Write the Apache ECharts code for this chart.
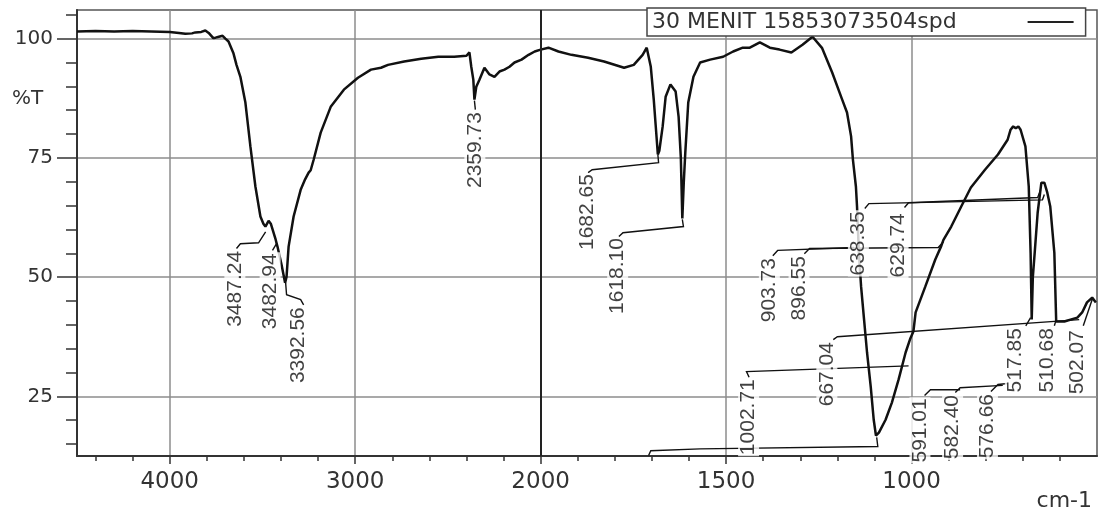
<!DOCTYPE html>
<html>
<head>
<meta charset="utf-8">
<title>FTIR 30 MENIT</title>
<script src="https://cdn.jsdelivr.net/npm/echarts@6/dist/echarts.min.js"></script>
<style>
  html, body { margin: 0; padding: 0; background: #fff; }
  #chart { width: 1099px; height: 513px; }
</style>
</head>
<body>
<div id="chart"></div>
<script>
// spectrum (cm-1 / %T)
const wavenumber = [
  4500, 4400, 4300, 4200, 4100, 4000, 3950, 3916, 3880, 3862,
  3830, 3808, 3790, 3781, 3765, 3753, 3735, 3715, 3700, 3683,
  3657, 3640, 3619, 3592, 3565, 3538, 3511, 3495, 3484, 3467,
  3455, 3446, 3429, 3419, 3397, 3378, 3370, 3359, 3332, 3294,
  3270, 3251, 3240, 3224, 3186, 3132, 3061, 2985, 2915, 2861,
  2823, 2736, 2644, 2552, 2466, 2400, 2384, 2374, 2363, 2357,
  2347, 2330, 2303, 2276, 2249, 2222, 2195, 2168, 2141, 2103,
  2065, 2032, 2000, 1979, 1952, 1917, 1872, 1829, 1775, 1749,
  1725, 1714, 1703, 1695, 1690, 1684, 1680, 1671, 1663, 1650,
  1636, 1628, 1622, 1618, 1614, 1610, 1602, 1588, 1570, 1543,
  1508, 1481, 1455, 1436, 1409, 1382, 1356, 1324, 1294, 1267,
  1241, 1214, 1187, 1174, 1163, 1158, 1150, 1147, 1142, 1136,
  1128, 1120, 1110, 1102, 1096, 1088, 1070, 1053, 1035, 1016,
  1003, 995, 989, 963, 936, 920, 914, 909, 893, 866,
  840, 802, 767, 741, 733, 726, 719, 712, 706, 693,
  684, 679, 676, 673, 668, 660, 650, 642, 634, 626,
  615, 610, 588, 553, 540, 527, 513, 503
];
const transmittance = [
  101.5, 101.6, 101.5, 101.6, 101.5, 101.4, 101.2, 101.0, 101.1, 101.3,
  101.4, 101.7, 101.2, 100.8, 100.1, 100.2, 100.4, 100.6, 100.0, 99.4,
  97.0, 94.5, 92.0, 86.6, 77.4, 69.0, 62.7, 61.2, 60.6, 61.8,
  61.2, 61.0, 57.9, 56.4, 52.6, 48.8, 50.1, 56.4, 62.7, 68.3,
  70.5, 71.9, 72.4, 74.6, 80.3, 85.7, 89.3, 91.8, 93.5, 93.9,
  94.5, 95.2, 95.8, 96.2, 96.2, 96.4, 97.1, 94.1, 91.4, 87.2,
  89.9, 91.4, 93.9, 92.5, 92.0, 93.1, 93.5, 94.1, 95.0, 95.6,
  96.6, 97.3, 97.7, 98.1, 97.3, 96.6, 96.0, 95.2, 93.9, 94.5,
  96.6, 98.1, 94.1, 87.2, 82.0, 75.7, 76.5, 81.6, 87.8, 90.4,
  88.9, 83.6, 75.0, 62.3, 70.0, 76.1, 86.6, 92.0, 95.0, 95.6,
  96.2, 97.3, 98.1, 98.1, 99.2, 98.1, 97.7, 97.1, 98.7, 100.4,
  98.0, 92.9, 87.2, 84.5, 79.5, 74.6, 69.0, 64.8, 55.1, 48.0,
  41.1, 34.2, 27.0, 20.1, 16.8, 17.4, 20.1, 23.7, 28.5, 34.2,
  37.2, 38.6, 42.6, 48.0, 53.7, 56.5, 57.8, 57.9, 60.6, 64.8,
  68.8, 72.5, 75.7, 78.8, 80.9, 81.6, 81.2, 81.6, 80.9, 77.4,
  69.0, 55.1, 41.1, 50.0, 55.1, 63.5, 69.8, 69.8, 67.7, 64.8,
  55.1, 40.7, 40.7, 41.5, 42.6, 44.7, 45.7, 44.7
];

const seriesName = '30 MENIT 15853073504spd';
const xTickLabels = [4000, 3000, 2000, 1500, 1000];
const yTickLabels = [25, 50, 75, 100];

// peak tags: text, where the top end of the tag sits, and its leader line
const peakNames = ['3487.24', '3482.94', '3392.56', '2359.73', '1682.65', '1618.10',
  '1002.71', '903.73', '896.55', '667.04', '638.35', '629.74',
  '591.01', '582.40', '576.66', '517.85', '510.68', '502.07'];
const peakTagWn = [3646, 3456, 3305, 2352, 1872, 1791, 1438, 1382, 1302, 1227, 1142, 1035, 976, 888, 794, 719, 634, 553];
const peakTagT = [55.6, 55.1, 43.8, 84.7, 71.7, 58.3, 28.7, 54.1, 54.5, 36.5, 63.9, 63.5, 24.7, 25.4, 25.6, 39.4, 39.4, 39.0];
const leaderPaths = [
  [[3483, 59.5], [3521, 57.2], [3619, 57.0], [3640, 56.0]],
  [[3424, 57.0], [3446, 55.6]],
  [[3375, 48.8], [3370, 46.3], [3294, 45.3], [3278, 44.2]],
  [[2357, 87.0], [2352, 85.1]],
  [[1684, 75.7], [1682, 74.0], [1861, 72.5], [1872, 71.9]],
  [[1618, 62.1], [1615, 60.6], [1778, 59.3], [1789, 58.5]],
  [[1008, 31.4], [1445, 30.2], [1438, 29.0]],
  [[1155, 56.2], [1361, 55.6], [1374, 54.5]],
  [[914, 57.4], [928, 56.2], [1275, 56.0], [1289, 54.9]],
  [[548, 41.1], [1200, 37.5], [1211, 36.9]],
  [[642, 67.3], [647, 66.2], [1115, 65.4], [1126, 64.4]],
  [[652, 68.3], [660, 66.7], [1008, 65.6], [1019, 64.6]],
  [[869, 26.4], [949, 26.4], [965, 25.2]],
  [[754, 27.3], [869, 26.8], [882, 25.8]],
  [[741, 27.7], [767, 27.5], [786, 26.0]],
  [[679, 41.5], [692, 39.8]],
  [[610, 41.1], [615, 39.8]],
  [[513, 45.3], [537, 39.8]],
  [[1094, 16.4], [1091, 14.5], [1570, 14.0], [1703, 13.6], [1709, 12.6]]
];

// the instrument plots 4000-2000 at half the scale of 2000-400
const toU = wn => wn <= 2000 ? wn : 2000 + (wn - 2000) / 2;
const fromU = u => u <= 2000 ? u : 2000 + (u - 2000) * 2;

const xMajor = xTickLabels.map(toU);
const xMinor = [];
for (let u = 600; u <= 3200; u += 100) if (u % 500 !== 0) xMinor.push(u);
const yMinor = [];
for (let t = 15; t <= 105; t += 5) if (t % 25 !== 0) yMinor.push(t);

const axisColor = '#333';
const gridColor = '#8c8c8c';

const chart = echarts.init(document.getElementById('chart'));
chart.setOption({
  animation: false,
  backgroundColor: '#fff',
  title: [
    { text: '%T', left: 12, top: 89, padding: 0,
      textStyle: { fontFamily: 'DejaVu Sans', fontSize: 20, fontWeight: 'normal', color: '#333' } },
    { text: 'cm-1', right: 7, top: 490, padding: 0,
      textStyle: { fontFamily: 'DejaVu Sans', fontSize: 22, fontWeight: 'normal', color: '#333' } }
  ],
  legend: {
    data: [{ name: seriesName, icon: 'rect' }],
    left: 647,
    top: 8,
    align: 'right',
    itemWidth: 46,
    itemHeight: 2,
    padding: [3, 12, 3, 5],
    backgroundColor: '#fff',
    borderColor: '#444',
    borderWidth: 1.5,
    borderRadius: 0,
    itemStyle: { color: '#222' },
    textStyle: { fontFamily: 'DejaVu Sans', fontSize: 22, color: '#333', lineHeight: 19, padding: [0, 66, 0, 0] }
  },
  grid: {
    left: 77, right: 2, top: 10, bottom: 57,
    show: true, borderColor: '#555', borderWidth: 1.5,
    outerBoundsMode: 'none'
  },
  xAxis: [{
    type: 'value', inverse: true, min: 500, max: 3250,
    axisLine: { onZero: false, lineStyle: { color: axisColor, width: 2 } },
    axisTick: { customValues: xMajor, length: 8, lineStyle: { color: axisColor, width: 1.5 } },
    axisLabel: {
      customValues: xMajor, margin: 15,
      fontFamily: 'DejaVu Sans', fontSize: 23, color: '#333',
      formatter: u => String(Math.round(fromU(u)))
    },
    splitLine: { show: true, lineStyle: { color: gridColor, width: 1.5 } }
  }, {
    type: 'value', inverse: true, min: 500, max: 3250, position: 'bottom',
    axisLine: { show: false },
    axisTick: { customValues: xMinor, length: 5, lineStyle: { color: axisColor, width: 1.5 } },
    axisLabel: { show: false },
    splitLine: { show: false }
  }],
  yAxis: [{
    type: 'value', min: 12.5, max: 106,
    axisLine: { show: true, lineStyle: { color: axisColor, width: 2 } },
    axisTick: { show: true, customValues: yTickLabels, length: 20, lineStyle: { color: axisColor, width: 1.5 } },
    axisLabel: { customValues: yTickLabels, margin: 24, fontFamily: 'DejaVu Sans', fontSize: 20, color: '#333' },
    splitLine: { show: true, lineStyle: { color: gridColor, width: 1.5 } }
  }, {
    type: 'value', min: 12.5, max: 106, position: 'left',
    axisLine: { show: false },
    axisTick: { show: true, customValues: yMinor, length: 11, lineStyle: { color: axisColor, width: 1.5 } },
    axisLabel: { show: false },
    splitLine: { show: false }
  }],
  series: [
    {
      name: seriesName,
      type: 'line',
      data: wavenumber.map((w, i) => [toU(w), transmittance[i]]),
      symbol: 'none',
      lineStyle: { color: '#111', width: 2.5 },
      itemStyle: { color: '#111' },
      z: 3,
      markLine: {
        silent: true,
        symbol: ['none', 'none'],
        label: { show: false },
        lineStyle: { color: '#222', width: 2, type: 'solid' },
        data: [{ xAxis: toU(2000) }]
      }
    },
    {
      type: 'lines',
      coordinateSystem: 'cartesian2d',
      polyline: true,
      silent: true,
      lineStyle: { color: '#111', width: 1.4, opacity: 1 },
      data: leaderPaths.map(p => ({ coords: p.map(([w, t]) => [toU(w), t]) })),
      z: 4
    },
    {
      type: 'scatter',
      silent: true,
      symbolSize: 1,
      itemStyle: { color: 'rgba(0,0,0,0)' },
      data: peakNames.map((n, i) => ({ name: n, value: [toU(peakTagWn[i]), peakTagT[i]] })),
      label: {
        show: true,
        position: [0, 0],
        rotate: 90,
        align: 'right',
        verticalAlign: 'middle',
        formatter: '{b}',
        fontFamily: 'Liberation Sans',
        fontSize: 21,
        color: '#111',
        backgroundColor: '#fff',
        padding: [0, 1, 0, 1]
      },
      z: 5
    }
  ]
});
</script>
</body>
</html>
